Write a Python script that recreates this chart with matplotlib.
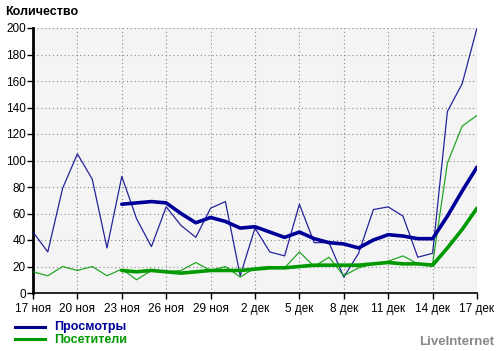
import matplotlib
matplotlib.use("Agg")
import matplotlib.pyplot as plt
from matplotlib.lines import Line2D

plt.rcParams['font.family'] = ['Liberation Sans', 'DejaVu Sans']

# days from 17 ноя (index 0) to 17 дек (index 30)
days = list(range(31))
tick_days = [0, 3, 6, 9, 12, 15, 18, 21, 24, 27, 30]
tick_labels = ["17 ноя", "20 ноя", "23 ноя", "26 ноя", "29 ноя", "2 дек",
               "5 дек", "8 дек", "11 дек", "14 дек", "17 дек"]

views = [46, 31, 79, 105, 86, 34, 88, 56, 35, 65, 51, 42, 64, 69, 13, 49,
         31, 28, 67, 38, 38, 12, 30, 63, 65, 58, 27, 30, 137, 158, 200]
visitors = [16, 13, 20, 17, 20, 13, 18, 10, 17, 16, 17, 23, 17, 20, 12, 19,
            20, 19, 31, 20, 27, 13, 19, 22, 24, 28, 22, 22, 98, 126, 134]

avg_days = list(range(6, 31))
views_avg = [67, 68, 69, 68, 60, 53, 57, 54, 49, 50, 46, 42, 46, 41, 38,
             37, 34, 40, 44, 43, 41, 41, 58, 77, 95]
visitors_avg = [17, 16, 17, 16, 15, 16, 17, 17, 17, 18, 19, 19, 20, 21, 21,
                21, 21, 22, 23, 22, 22, 21, 34, 48, 64]

W, H = 500, 351
fig = plt.figure(figsize=(5, 3.51), dpi=100)
fig.patch.set_facecolor('white')
ax = fig.add_axes([33 / W, 1 - 293 / H, 444 / W, 265 / H])
ax.set_facecolor('#f4f4f4')

blue = '#00008b'
green = '#009900'

ax.plot(days, views, color=blue, lw=0.9, alpha=0.85, zorder=3)
ax.plot(days, visitors, color=green, lw=0.9, alpha=0.85, zorder=3)
ax.plot(avg_days, views_avg, color='#000099', lw=2.6, zorder=4, solid_capstyle='round')
ax.plot(avg_days, visitors_avg, color=green, lw=2.6, zorder=4, solid_capstyle='round')

ax.set_xlim(0, 30)
ax.set_ylim(0, 200)
ax.set_yticks(range(0, 201, 20))
ax.set_xticks(tick_days)
ax.set_xticklabels(tick_labels)
ax.grid(True, color='#888888', linestyle=(0, (1, 2.5)), lw=0.8)
for s in ['top', 'right']:
    ax.spines[s].set_visible(False)
ax.spines['left'].set_linewidth(2)
ax.spines['bottom'].set_linewidth(1.2)
ax.tick_params(axis='both', labelsize=8.5, colors='black', length=4, width=1)
ax.tick_params(axis='y', pad=1)
ax.tick_params(axis='x', pad=3)

fig.text(5 / W, 1 - 12 / H, "Количество", fontsize=9, fontweight='bold',
         va='center', ha='left')

# legend
fig.add_artist(Line2D([15 / W, 45 / W], [1 - 327 / H, 1 - 327 / H],
                      color=blue, lw=2.2, transform=fig.transFigure))
fig.add_artist(Line2D([15 / W, 45 / W], [1 - 339 / H, 1 - 339 / H],
                      color=green, lw=2.2, transform=fig.transFigure))
fig.text(54 / W, 1 - 327 / H, "Просмотры", fontsize=9, fontweight='bold',
         color='#000099', va='center', ha='left')
fig.text(54 / W, 1 - 340 / H, "Посетители", fontsize=9, fontweight='bold',
         color=green, va='center', ha='left')
fig.text(494 / W, 1 - 342 / H, "LiveInternet", fontsize=9.5, fontweight='bold',
         color='#888888', va='center', ha='right')

fig.savefig("out.png", dpi=100)
